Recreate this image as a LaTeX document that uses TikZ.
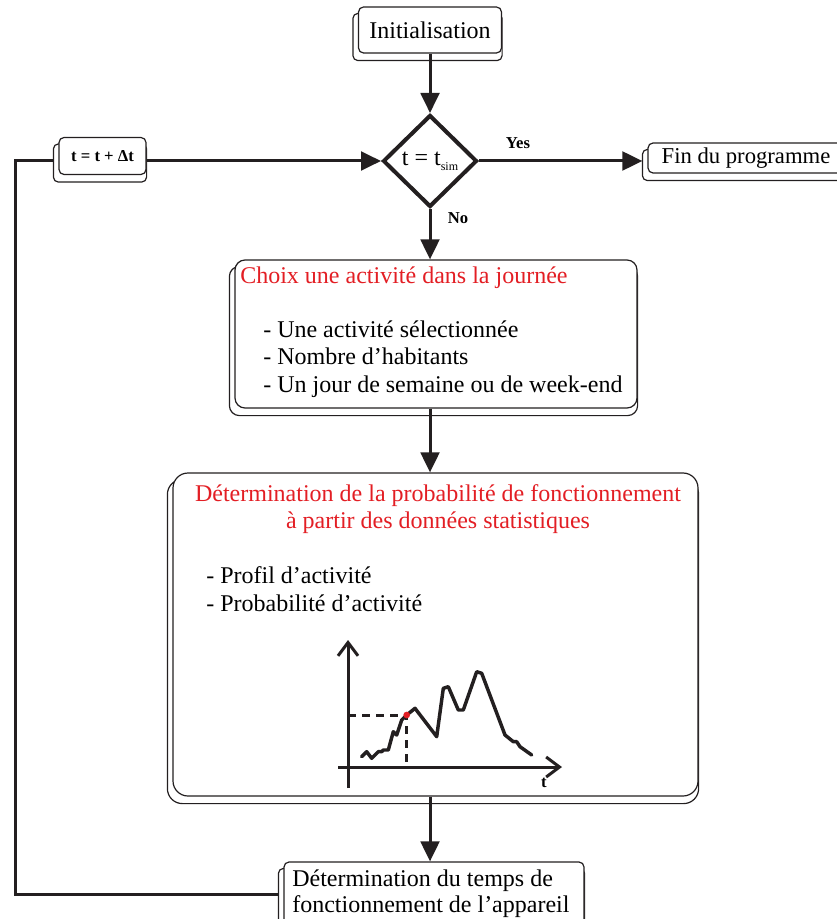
\documentclass[tikz,border=0pt]{standalone}
\usepackage{fontspec}
\setmainfont{Liberation Serif}
\usetikzlibrary{arrows.meta, calc, shapes.geometric, backgrounds}
\definecolor{titlered}{RGB}{227,30,36}
\definecolor{ink}{RGB}{35,31,32}

\begin{document}
\begin{tikzpicture}[x=0.75pt, y=-0.75pt,
	box/.style={draw=ink, fill=white, line width=0.9pt, rounded corners=3.75pt, inner sep=0pt, font=\fontsize{18}{20.5}\selectfont},
	shadowbox/.style={draw=ink, fill=white, line width=0.9pt},
	test/.style={diamond, draw=ink, line width=3pt, fill=white, minimum width=70.5pt, minimum height=69pt, inner sep=0pt, font=\fontsize{18}{20.5}\selectfont},
	flow/.style={draw=ink, line width=2.25pt, -{Triangle[length=15pt, width=14pt]}},
	loopline/.style={draw=ink, line width=2.25pt},
	txt/.style={inner sep=0pt, font=\fontsize{18}{20.5}\selectfont, align=left},
	answer/.style={inner sep=0pt, font=\bfseries\fontsize{12.5}{14}\selectfont},
	chartaxis/.style={draw=ink, line width=2.25pt, -{Straight Barb[length=10pt, width=15pt, line width=2.25pt]}},
	curve/.style={draw=ink, line width=2.6pt, line join=round, line cap=round},
	guide/.style={draw=ink, line width=2.25pt, dash pattern=on 6pt off 4.5pt}]
	\useasboundingbox (0,0) rectangle (836,919);

	\node [box, minimum width=107.25pt, minimum height=34.5pt] (init) at (430,30) {Initialisation};
	\node [test] (dec) at (430,161) {t = t\raisebox{-0.45ex}{\fontsize{9}{9}\selectfont sim}};
	\node [box, font=\bfseries\fontsize{12.5}{14}\selectfont, minimum width=65.25pt, minimum height=27.75pt] (incr) at (102.5,156) {t = t + Δt};
	\node [box, font=\fontsize{17}{20}\selectfont, minimum width=147pt, minimum height=22.5pt] (fin) at (746,158) {Fin du programme};
	\node [box, rounded corners=7.5pt, minimum width=301.5pt, minimum height=111pt] (choix) at (436,334) {};
	\node [box, rounded corners=11.25pt, minimum width=393.75pt, minimum height=242.25pt] (proba) at (435.5,634.5) {};
	\node [box, minimum width=225pt, minimum height=48pt] (duree) at (434,894) {};

	\begin{scope}[on background layer]
		\foreach \n/\r in {init/3.75pt, incr/3.75pt, fin/3.75pt, choix/7.5pt, proba/11.25pt, duree/3.75pt}{
			\draw [shadowbox, rounded corners=\r] ([shift={(-5,7)}]\n.north west) rectangle ([shift={(0,7)}]\n.south east);
		}
	\end{scope}

	\node [txt, text=titlered, anchor=west] (choixtitle) at (240,278) {Choix une activité dans la journée};
	\node [txt, anchor=west] (choixlist) at (263,359) {- Une activité sélectionnée\\- Nombre d’habitants\\- Un jour de semaine ou de week-end};
	\node [txt, text=titlered, align=center] (probatitle) at (438,509) {Détermination de la probabilité de fonctionnement\\à partir des données statistiques};
	\node [txt, anchor=west] (probalist) at (206,589) {- Profil d’activité\\- Probabilité d’activité};
	\node [txt, font=\fontsize{18}{19.5}\selectfont, anchor=west] (dureetext) at (292,894) {Détermination du temps de\\fonctionnement de l’appareil};

	\node [answer] (yes) at (518,143) {Yes};
	\node [answer] (no) at (458,218) {No};

	\draw [flow] (init.south) -- (dec.north);
	\draw [flow] (incr.east |- dec.west) -- (dec.west);
	\draw [flow] (dec.east) -- ([xshift=-3.75pt]dec.east -| fin.west);
	\draw [flow] (dec.south) -- (dec.south |- choix.north);
	\draw [flow] (dec.south |- choix.south) -- (dec.south |- proba.north);
	\draw [flow] (dec.south |- proba.south) -- (dec.south |- duree.north);
	\coordinate (corner) at (15,894);
	\draw [loopline] ([xshift=-3.75pt]duree.west |- corner) -- (corner) |- ([xshift=-3.75pt]incr.west |- dec.west);

	\coordinate (O) at (348,767);
	\coordinate (P) at (406.7,715);
	\draw [chartaxis] (348,788) -- (348,640);
	\draw [chartaxis] (338,767) -- (562,767);
	\draw [guide] (O |- P) -- (P) -- (P |- O);
	\draw [curve] (361.7,756.7) -- (366.7,751.7) -- (371.7,758.3) -- (376.7,753.3) -- (378.3,751.7) -- (381.7,751.7) -- (383.3,750) -- (388.3,750) -- (393.3,731.7) -- (396.7,735) -- (401.7,720) -- (P) -- (415,708.3) -- (436.7,736.7) -- (443.3,688.3) -- (448.3,686.7) -- (458.3,710) -- (463.3,710) -- (476.7,671.7) -- (481.7,673.3) -- (505,735) -- (513.3,741.7) -- (516.7,741.7) -- (520,746.7) -- (531.7,755);
	\fill [titlered] (P) circle (2.5pt);
	\node [answer] (tlabel) at (544,783) {t};
\end{tikzpicture}
\end{document}
